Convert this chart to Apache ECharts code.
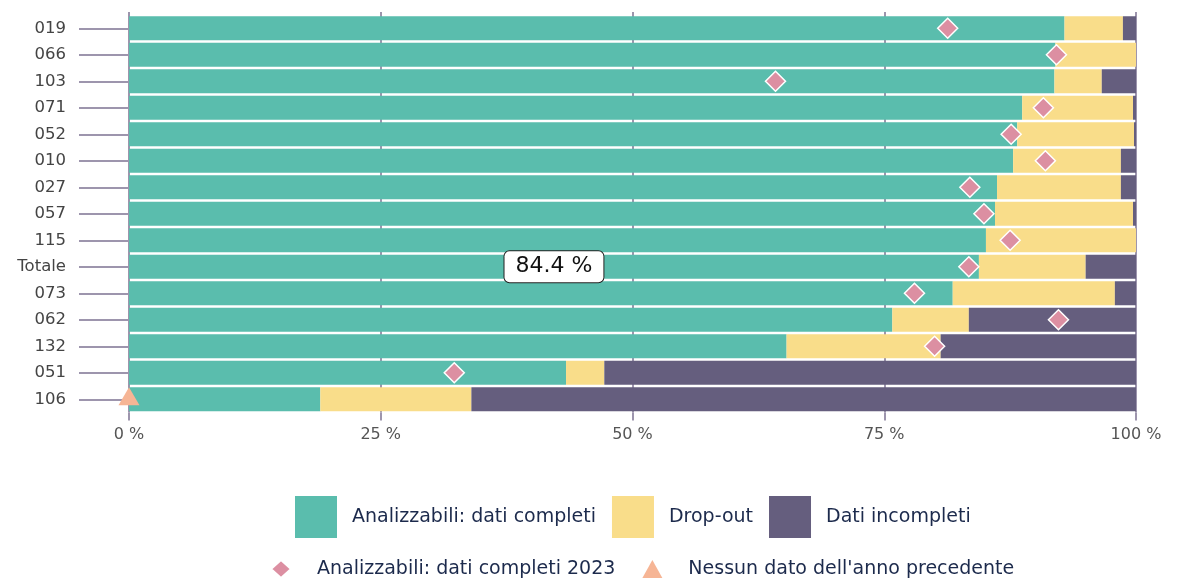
<!DOCTYPE html>
<html>
<head>
<meta charset="utf-8">
<script src="https://cdn.jsdelivr.net/npm/echarts@6/dist/echarts.min.js"></script>
<style>
  html, body { margin: 0; padding: 0; background: #fff; }
  #main { width: 1179px; height: 580px; }
</style>
</head>
<body>
<div id="main"></div>
<script>
// dati (percentuali)
var categorie = ['019', '066', '103', '071', '052', '010', '027', '057', '115', 'Totale', '073', '062', '132', '051', '106'];
var completi = [92.9, 92.0, 91.9, 88.7, 88.2, 87.8, 86.2, 86.0, 85.1, 84.4, 81.8, 75.8, 65.3, 43.4, 19.0];
var dropout = [5.8, 8.0, 4.7, 11.0, 11.6, 10.7, 12.3, 13.7, 14.9, 10.6, 16.1, 7.6, 15.3, 3.8, 15.0];
var incompleti = [1.3, 0, 3.4, 0.3, 0.2, 1.5, 1.5, 0.3, 0, 5.0, 2.1, 16.6, 19.4, 52.8, 66.0];
var completi2023 = [81.3, 92.1, 64.2, 90.8, 87.6, 91.0, 83.5, 84.9, 87.5, 83.4, 78.0, 92.3, 80.0, 32.3, null];
var nessunDato = ['106'];
var xTicks = [0, 25, 50, 75, 100];

var lineColor = '#9d95ad';
var fontFam = '"DejaVu Sans", sans-serif';

var myChart = echarts.init(document.getElementById('main'));

var greenData = completi.map(function (v, i) {
    if (categorie[i] === 'Totale') {
        return {
            value: v,
            label: {
                show: true,
                position: 'inside',
                formatter: v.toFixed(1) + ' %',
                fontSize: 22,
                fontFamily: fontFam,
                color: '#111',
                backgroundColor: '#fff',
                borderColor: '#222',
                borderWidth: 1,
                borderRadius: 5,
                padding: [5, 11, 4, 11]
            }
        };
    }
    return v;
});

var diamondData = [];
completi2023.forEach(function (v, i) {
    if (v !== null) diamondData.push([v, i]);
});
var triData = nessunDato.map(function (c) { return [0, categorie.indexOf(c)]; });

myChart.setOption({
    animation: false,
    grid: { left: 129, right: 43, top: 15, height: 397.5 },
    xAxis: [
        {
            type: 'value',
            min: xTicks[0],
            max: xTicks[xTicks.length - 1],
            interval: 25,
            axisLine: { show: false },
            axisTick: { show: true, length: 8, lineStyle: { color: lineColor, width: 2 } },
            axisLabel: {
                formatter: '{value} %',
                color: '#555',
                fontSize: 16,
                fontFamily: fontFam,
                margin: 14
            },
            splitLine: { show: true, lineStyle: { color: lineColor, width: 2 } }
        },
        {
            type: 'value',
            position: 'top',
            min: xTicks[0],
            max: xTicks[xTicks.length - 1],
            interval: 25,
            axisLine: { show: false },
            axisTick: { show: true, length: 3, lineStyle: { color: lineColor, width: 2 } },
            axisLabel: { show: false },
            splitLine: { show: false }
        }
    ],
    yAxis: [
        {
            type: 'category',
            data: categorie,
            inverse: true,
            axisLine: { show: false },
            axisTick: { show: true, alignWithLabel: true, length: 50, lineStyle: { color: lineColor, width: 2 } },
            axisLabel: { color: '#444', fontSize: 16.5, fontFamily: fontFam, margin: 63 }
        },
        {
            type: 'category',
            data: categorie,
            inverse: true,
            position: 'right',
            axisLine: { show: false },
            axisTick: { show: true, alignWithLabel: true, length: 43, lineStyle: { color: lineColor, width: 2 } },
            axisLabel: { show: false }
        }
    ],
    legend: [
        {
            data: ['Analizzabili: dati completi', 'Drop-out', 'Dati incompleti'],
            left: 295,
            top: 496,
            padding: 0,
            icon: 'rect',
            itemWidth: 42,
            itemHeight: 42,
            itemGap: 16,
            textStyle: { color: '#1c2a4c', fontSize: 19, fontFamily: fontFam, padding: [0, 0, 0, 10] }
        },
        {
            data: ['Analizzabili: dati completi 2023', 'Nessun dato dell\'anno precedente'],
            left: 270,
            top: 559,
            padding: 0,
            itemWidth: 20,
            itemHeight: 18,
            itemGap: 27,
            textStyle: { color: '#1c2a4c', fontSize: 19, fontFamily: fontFam, padding: [0, 0, 0, 21] }
        }
    ],
    series: [
        {
            name: 'Analizzabili: dati completi',
            type: 'bar',
            stack: 'tot',
            barWidth: 24,
            itemStyle: { color: '#5abdad' },
            data: greenData
        },
        {
            name: 'Drop-out',
            type: 'bar',
            stack: 'tot',
            barWidth: 24,
            itemStyle: { color: '#f9dd8a' },
            data: dropout
        },
        {
            name: 'Dati incompleti',
            type: 'bar',
            stack: 'tot',
            barWidth: 24,
            itemStyle: { color: '#655e7e' },
            data: incompleti
        },
        {
            name: 'Analizzabili: dati completi 2023',
            type: 'scatter',
            symbol: 'diamond',
            symbolSize: [20, 20],
            z: 5,
            itemStyle: { color: '#dc8fa2', borderColor: '#fff', borderWidth: 1.5, opacity: 1 },
            data: diamondData
        },
        {
            name: 'Nessun dato dell\'anno precedente',
            type: 'scatter',
            symbol: 'triangle',
            symbolSize: [21, 18],
            symbolOffset: [0, -3],
            z: 5,
            itemStyle: { color: '#f6b595', opacity: 1 },
            data: triData
        }
    ]
});
</script>
</body>
</html>
